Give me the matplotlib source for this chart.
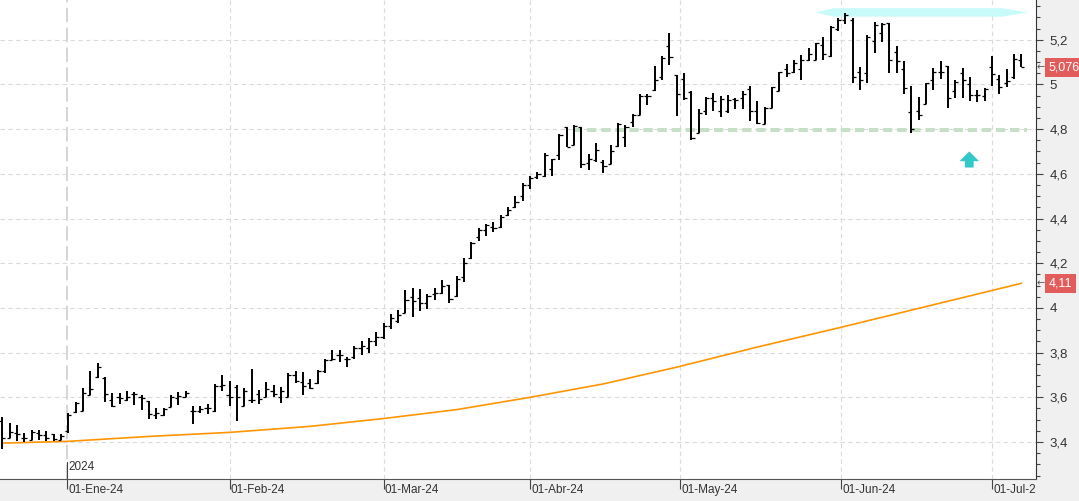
import numpy as np
import matplotlib
matplotlib.use("Agg")
import matplotlib.pyplot as plt
from matplotlib.ticker import MultipleLocator, FuncFormatter
from matplotlib.patches import Polygon
import matplotlib.transforms as mtransforms

plt.rcParams['font.family'] = ['Liberation Sans', 'DejaVu Sans']

# diario, 19-dic-2023 .. 05-jul-2024 (sesiones)
opens = [3.494, 3.420, 3.440, 3.420, 3.410, 3.440, 3.430, 3.435, 3.410, 3.448,
         3.534, 3.540, 3.610, 3.690, 3.686, 3.590, 3.600, 3.590, 3.617, 3.600,
         3.585, 3.520, 3.520, 3.557, 3.595, 3.603, 3.540, 3.540, 3.551, 3.540,
         3.650, 3.610, 3.647, 3.561, 3.590, 3.615, 3.603, 3.630, 3.603, 3.603,
         3.700, 3.670, 3.662, 3.662, 3.719, 3.767, 3.790, 3.770, 3.780, 3.820,
         3.820, 3.850, 3.870, 3.919, 3.940, 3.979, 4.050, 4.045, 4.020, 4.060,
         4.065, 4.102, 4.052, 4.140, 4.222, 4.315, 4.350, 4.360, 4.360, 4.416,
         4.450, 4.500, 4.550, 4.585, 4.590, 4.620, 4.684, 4.808, 4.730, 4.808,
         4.650, 4.660, 4.655, 4.644, 4.724, 4.766, 4.830, 4.864, 4.948, 4.975,
         5.032, 5.172, 5.040, 5.023, 4.968, 4.784, 4.880, 4.940, 4.880, 4.883,
         4.935, 4.940, 4.978, 4.880, 4.823, 4.893, 4.972, 5.067, 5.057, 5.070,
         5.110, 5.110, 5.177, 5.126, 5.246, 5.286, 5.290, 5.057, 5.052, 5.196,
         5.228, 5.273, 5.146, 5.067, 4.876, 4.883, 4.912, 5.020, 5.057, 5.084,
         4.972, 5.052, 5.000, 4.953, 4.950, 5.076, 5.025, 5.008, 5.032, 5.110]
highs = [3.513, 3.486, 3.475, 3.442, 3.454, 3.454, 3.448, 3.436, 3.436, 3.528,
         3.580, 3.640, 3.719, 3.752, 3.689, 3.621, 3.618, 3.630, 3.625, 3.609,
         3.585, 3.551, 3.551, 3.610, 3.624, 3.630, 3.561, 3.561, 3.569, 3.658,
         3.700, 3.671, 3.653, 3.640, 3.725, 3.633, 3.667, 3.656, 3.645, 3.707,
         3.719, 3.715, 3.680, 3.722, 3.770, 3.812, 3.812, 3.779, 3.830, 3.850,
         3.864, 3.890, 3.931, 3.973, 3.991, 4.080, 4.088, 4.085, 4.062, 4.088,
         4.125, 4.102, 4.143, 4.222, 4.296, 4.356, 4.375, 4.386, 4.416, 4.450,
         4.501, 4.560, 4.590, 4.609, 4.694, 4.667, 4.778, 4.808, 4.818, 4.808,
         4.689, 4.736, 4.662, 4.729, 4.826, 4.818, 4.868, 4.957, 4.957, 5.082,
         5.127, 5.229, 5.042, 5.052, 4.972, 4.889, 4.942, 4.960, 4.946, 4.953,
         4.938, 4.972, 4.993, 4.927, 4.897, 4.987, 5.057, 5.091, 5.109, 5.132,
         5.162, 5.184, 5.213, 5.261, 5.296, 5.321, 5.296, 5.079, 5.221, 5.281,
         5.273, 5.273, 5.172, 5.103, 4.993, 4.942, 5.005, 5.072, 5.103, 5.084,
         5.020, 5.072, 5.032, 4.975, 4.983, 5.127, 5.040, 5.067, 5.136, 5.136]
lows = [3.370, 3.417, 3.406, 3.400, 3.409, 3.410, 3.406, 3.403, 3.409, 3.442,
        3.528, 3.540, 3.609, 3.686, 3.580, 3.555, 3.569, 3.585, 3.564, 3.543,
        3.501, 3.501, 3.516, 3.555, 3.566, 3.600, 3.479, 3.531, 3.527, 3.534,
        3.628, 3.561, 3.495, 3.561, 3.576, 3.570, 3.603, 3.600, 3.576, 3.603,
        3.665, 3.609, 3.636, 3.659, 3.707, 3.767, 3.760, 3.737, 3.770, 3.790,
        3.800, 3.830, 3.860, 3.907, 3.934, 3.979, 3.961, 3.987, 3.996, 4.035,
        4.062, 4.020, 4.050, 4.117, 4.217, 4.301, 4.320, 4.341, 4.356, 4.411,
        4.446, 4.480, 4.530, 4.575, 4.587, 4.590, 4.662, 4.718, 4.729, 4.624,
        4.617, 4.654, 4.602, 4.644, 4.718, 4.721, 4.808, 4.864, 4.908, 4.972,
        5.020, 5.087, 4.859, 4.930, 4.751, 4.781, 4.863, 4.880, 4.853, 4.870,
        4.890, 4.890, 4.838, 4.823, 4.823, 4.893, 4.972, 5.032, 5.052, 5.020,
        5.103, 5.110, 5.110, 5.121, 5.240, 5.270, 5.008, 4.975, 5.008, 5.142,
        5.191, 5.050, 5.052, 4.957, 4.781, 4.841, 4.912, 4.975, 5.025, 4.896,
        4.940, 4.940, 4.927, 4.923, 4.927, 4.993, 4.957, 4.990, 5.023, 5.076]
closes = [3.417, 3.445, 3.435, 3.420, 3.445, 3.430, 3.420, 3.412, 3.427, 3.519,
          3.576, 3.621, 3.636, 3.737, 3.615, 3.560, 3.595, 3.600, 3.615, 3.596,
          3.524, 3.530, 3.548, 3.603, 3.606, 3.621, 3.540, 3.549, 3.551, 3.651,
          3.655, 3.600, 3.602, 3.630, 3.590, 3.591, 3.636, 3.615, 3.626, 3.702,
          3.672, 3.650, 3.642, 3.719, 3.767, 3.770, 3.790, 3.773, 3.820, 3.830,
          3.850, 3.870, 3.917, 3.955, 3.970, 4.035, 4.030, 4.020, 4.055, 4.065,
          4.098, 4.040, 4.130, 4.200, 4.290, 4.350, 4.370, 4.356, 4.405, 4.440,
          4.475, 4.550, 4.580, 4.600, 4.684, 4.665, 4.775, 4.718, 4.814, 4.644,
          4.667, 4.706, 4.637, 4.700, 4.822, 4.810, 4.864, 4.948, 4.948, 5.020,
          5.117, 5.122, 4.957, 4.938, 4.759, 4.871, 4.937, 4.925, 4.935, 4.930,
          4.930, 4.958, 4.882, 4.826, 4.893, 4.987, 5.057, 5.052, 5.097, 5.110,
          5.135, 5.184, 5.135, 5.258, 5.286, 5.310, 5.032, 5.020, 5.213, 5.266,
          5.270, 5.109, 5.103, 4.982, 4.800, 4.863, 5.005, 5.057, 5.057, 4.940,
          5.010, 5.020, 4.953, 4.953, 4.980, 5.047, 4.990, 5.013, 5.112, 5.076]

# media movil (naranja), leida cada ~10 sesiones
ma_idx = [0, 9, 20, 31, 42, 52, 62, 72, 82, 92, 103, 114, 125, 139]
ma_val = [3.395, 3.403, 3.425, 3.443, 3.470, 3.505, 3.545, 3.600, 3.660,
          3.735, 3.825, 3.910, 3.998, 4.110]

month_labels = ['01-Ene-24', '01-Feb-24', '01-Mar-24', '01-Abr-24',
                '01-May-24', '01-Jun-24', '01-Jul-24']
month_pos = [8.85, 31, 52, 72, 92.5, 114.4, 135]

support = 4.795
resistance = 5.322
last_close = closes[-1]
last_ma = ma_val[-1]

fig = plt.figure(figsize=(10.79, 5.01), dpi=100, facecolor='#f0f0f0')
ax = fig.add_axes([0, 22 / 501, 1036 / 1079, 479 / 501])
ax.set_facecolor('white')

x = np.arange(len(closes))
ax.vlines(x, lows, highs, color='black', lw=1.4, zorder=5)
ax.hlines(opens, x - 0.42, x, color='black', lw=0.9, zorder=5)
ax.hlines(closes, x, x + 0.42, color='black', lw=0.9, zorder=5)

ax.plot(ma_idx, ma_val, color='#ff9500', lw=1.2, zorder=4)

# soporte y resistencia
ax.plot([77.8, 139.8], [support, support], color='#c6dfc6', lw=2.9,
        dashes=(2.3, 1.2), solid_capstyle='butt', zorder=3)
r0, r1, h = 110.9, 139.9, 0.019
ax.add_patch(Polygon([(r0, resistance), (r0 + 2.5, resistance + h),
                      (r1 - 3.5, resistance + h), (r1, resistance),
                      (r1 - 3.5, resistance - h), (r0 + 2.5, resistance - h)],
                     closed=True, fc='#c8fafa', ec='none', zorder=2))

ax.annotate('', xy=(131.9, 4.70), xytext=(131.9, 4.628),
            arrowprops=dict(arrowstyle='simple,head_length=0.5,head_width=1.0,tail_width=0.45',
                            color='#33c8c8', lw=0, mutation_scale=14,
                            shrinkA=0, shrinkB=0), zorder=6)

ax.set_xlim(-0.31, 141.0)
ax.set_ylim(3.2345, 5.3776)

# rejilla
ax.yaxis.set_major_locator(MultipleLocator(0.2))
ax.yaxis.set_minor_locator(MultipleLocator(0.05))
ax.grid(axis='y', color='#dadada', lw=0.8, linestyle=(0, (4, 3)))
for p in month_pos[1:]:
    ax.axvline(p, color='#dadada', lw=0.8, linestyle=(0, (4, 3)), zorder=0)
ax.axvline(month_pos[0], color='#d2d2d2', lw=1.3, linestyle=(0, (8, 3)), zorder=0)

# ejes
for s in ['left', 'top']:
    ax.spines[s].set_visible(False)
ax.spines['bottom'].set_color('#555555')
ax.spines['right'].set_color('#333333')
ax.yaxis.tick_right()
ax.yaxis.set_major_formatter(FuncFormatter(lambda v, p: ('%g' % round(v, 2)).replace('.', ',')))
ax.tick_params(axis='y', which='major', length=5, width=0.8, color='#444444',
               labelsize=9.5, labelcolor='#333333', pad=5)
ax.tick_params(axis='y', which='minor', length=3, width=0.8, color='#444444')

ax.set_xticks(month_pos)
ax.set_xticklabels([])
ax.tick_params(axis='x', length=7, width=0.8, color='#444444', direction='out')
tr = mtransforms.blended_transform_factory(ax.transData, ax.transAxes)
clip = mtransforms.Bbox.from_extents(0, 0, 1036, 501)
for p, lab in zip(month_pos, month_labels):
    t = ax.text(p + 0.15, -0.022, lab, transform=tr, ha='left', va='center',
                fontsize=8.5, color='#333333')
    t.set_clip_box(clip)
    t.set_clip_on(True)
ax.text(month_pos[0] + 0.2, 0.025, '2024', transform=tr, ha='left', va='center',
        fontsize=8.5, color='#333333')
ax.plot([month_pos[0], month_pos[0]], [0, 0.035], transform=tr, color='#444444', lw=0.8)

# etiquetas de precio
ty = mtransforms.blended_transform_factory(ax.transAxes, ax.transData)
for val, txt in [(last_close, ('%.3f' % last_close).replace('.', ',')),
                 (last_ma, ('%.2f' % last_ma).replace('.', ','))]:
    ax.text(1.0125, val, txt, transform=ty, ha='left', va='center', fontsize=9,
            color='white', clip_on=False,
            bbox=dict(boxstyle='square,pad=0.3', fc='#e35c5c', ec='none'))
    ax.text(1.0005, val, '←', transform=ty, ha='left', va='center', fontsize=7,
            color='#555555', family='DejaVu Sans', clip_on=False)

fig.savefig('out.png', dpi=100, facecolor=fig.get_facecolor())
